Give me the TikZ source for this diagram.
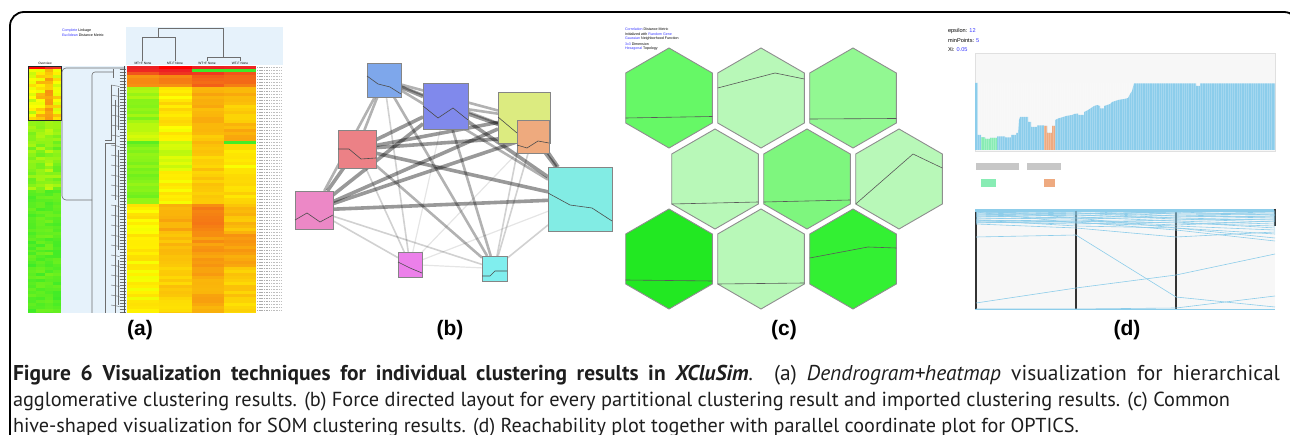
\documentclass[tikz,border=0pt]{standalone}
\usepackage{fontspec}
\setmainfont{PT Sans}
\newfontfamily\labfont{Liberation Sans}
\newfontfamily\tinyfont{Liberation Sans}
\usetikzlibrary{backgrounds}
\definecolor{dendbg}{HTML}{E6F2FB}
\definecolor{dendln}{HTML}{6E6E6E}
\definecolor{hgreen}{HTML}{3CEB28}
\definecolor{linkblue}{HTML}{3A3AFF}
\definecolor{nodeborder}{HTML}{858585}
\definecolor{nbA}{HTML}{7EA7EB}
\definecolor{nbB}{HTML}{8089EC}
\definecolor{nbC}{HTML}{DCEB80}
\definecolor{nbD}{HTML}{EEAA7E}
\definecolor{nbE}{HTML}{EC8186}
\definecolor{nbF}{HTML}{EC88C6}
\definecolor{nbG}{HTML}{82ECE4}
\definecolor{nbH}{HTML}{EC80EA}
\definecolor{nbI}{HTML}{80EEEE}
\definecolor{hexborder}{HTML}{8E8E8E}
\definecolor{hxA}{HTML}{66F866}
\definecolor{hxL}{HTML}{B8F8B8}
\definecolor{hxC}{HTML}{92F892}
\definecolor{hxE}{HTML}{7EF67E}
\definecolor{hxG}{HTML}{22E822}
\definecolor{hxI}{HTML}{33F033}
\definecolor{barblue}{HTML}{8CCDEB}
\definecolor{pblue}{HTML}{8DCDEA}
\definecolor{plotbg}{HTML}{F7F7F7}
\definecolor{gmint}{HTML}{88ECB4}
\definecolor{orangeb}{HTML}{EEAA80}
\definecolor{capgray}{HTML}{1E1E1E}
\newsavebox\capbox
\newdimen\capw
\newdimen\capwa
\newcommand\capfont{\fontsize{20}{25}\selectfont}
\newcommand\capone{\textbf{Figure 6 Visualization techniques for individual clustering results in \textit{XCluSim}}. (a) \textit{Dendrogram+heatmap} visualization for hierarchical}
\newcommand\heatcol[1]{%
  \pgfmathsetmacro\hl{max(0,min(10,#1))}%
  \ifdim\hl pt<6pt
    \pgfmathtruncatemacro\hp{\hl/6*100}%
    \colorlet{hc}{yellow!\hp!red}%
  \else
    \pgfmathtruncatemacro\hp{(\hl-6)/4*100}%
    \colorlet{hc}{hgreen!\hp!yellow}%
  \fi}
\begin{document}
\sbox\capbox{\capfont hive-shaped visualization for SOM clustering results. (d) Reachability plot together with parallel coordinate plot for OPTICS.}%
\global\capw=\wd\capbox
\sbox\capbox{\capfont\capone}%
\global\capwa=\wd\capbox
\pgfmathsetmacro\capsc{1066/\capw}%
\pgfmathsetmacro\capsca{0.5*\capsc+0.5*1267/\capwa}%
\pgfmathsetmacro\lwa{1267/\capsca}%
\xdef\capsc{\capsc}\xdef\capsca{\capsca}\xdef\lwa{\lwa}%
\begin{tikzpicture}[x=1pt,y=-1pt,
  every node/.style={inner sep=0pt, outer sep=0pt},
  dend/.style={draw=dendln, line width=0.6pt},
  bnode/.style={draw=nodeborder, line width=0.8pt, rectangle, inner sep=0pt},
  spark/.style={draw=black!70, line width=0.6pt},
  estrong/.style={draw=black, line width=3.6pt, draw opacity=0.40},
  emid/.style={draw=black, line width=2.6pt, draw opacity=0.30},
  elight/.style={draw=black, line width=1.6pt, draw opacity=0.18},
  efaint/.style={draw=black, line width=1.2pt, draw opacity=0.1},
  hexb/.style={draw=hexborder, line width=0.9pt},
  hexline/.style={draw=black!65, line width=0.6pt},
  pline/.style={draw=pblue, line width=0.6pt},
  panellab/.style={font=\labfont\bfseries\fontsize{21}{21}\selectfont, anchor=base},
  tinytxt/.style={font=\tinyfont\fontsize{3.6}{4}\selectfont, anchor=west},
  dtxt/.style={font=\tinyfont\fontsize{5.6}{7}\selectfont, anchor=west},
  capline/.style={anchor=base west, text=capgray},
]
\useasboundingbox (0,0) rectangle (1290,435);
\begin{scope}[on background layer]
\fill[white] (0,0) rectangle (1290,435);
\end{scope}
\clip (0,0) rectangle (1290,435);
\pgfmathsetseed{7}

% ---------- frame ----------
\draw[line width=1.8pt, rounded corners=14pt] (10,445) -- (10,12) -- (1298,12) -- (1298,445);

% ---------- panel (a) ----------
\fill[dendbg] (126,27) rectangle (283,65);
\fill[dendbg] (61,66) rectangle (127,313);
\node[tinytxt] at (62,31) {\textcolor{linkblue}{Complete} Linkage};
\node[tinytxt] at (62,35.5) {\textcolor{linkblue}{Euclidean} Distance Metric};
% top dendrogram
\draw[dend] (158,37) -- (158,28) -- (223,28) -- (223,57);
\draw[dend] (142,61) -- (142,37) -- (175,37) -- (175,61);
\draw[dend] (207,61) -- (207,57) -- (240,57) -- (240,61);
\foreach \xx/\tt in {143/MT+F None,175/MT-F None,207/WT+F None,240/WT-F None}
  \node[font=\tinyfont\fontsize{3.2}{4}\selectfont] at (\xx,63) {\tt};
\node[font=\tinyfont\fontsize{3.2}{4}\selectfont] at (45,63) {Overview};
% main heatmap
\begin{scope}
\clip (127,66) rectangle (256,313);
\foreach \ya/\yb/\la/\lb/\lc/\ld/\nz in {
  66/69/0/0/0.3/0.3/0.2, 69/72/0.5/0/10/10/0.2, 72/75/1.5/0.5/1/1.5/0.4,
  75/87/3.5/3/2/2.5/0.5, 87/99/7.8/5.8/4/4.2/0.4, 99/123/8.3/5.5/4.2/4.8/0.45,
  123/141/7.2/5.8/4.8/4.2/0.45, 141/144/9.5/7/4.5/9.8/0.2, 144/171/8.6/7/5/5.8/0.45,
  171/204/8.6/6/5/5.3/0.45, 204/231/5.8/4/3/4.5/0.45, 231/267/5.8/4.5/3.5/3.8/0.45,
  267/300/6/5/4/5/0.45, 300/315/5.8/5.2/4/5.3/0.4}{
  \pgfmathtruncatemacro\nrows{max(1,round((\yb-\ya)/3))}
  \pgfmathsetmacro\rh{(\yb-\ya)/\nrows}
  \foreach \r in {1,...,\nrows}{
    \pgfmathsetmacro\yy{\ya+(\r-1)*\rh}
    \foreach \lv [count=\c from 0] in {\la,\lb,\lc,\ld}{
      \pgfmathsetmacro\lvn{\lv+\nz*(rnd-0.5)*2}
      \heatcol{\lvn}
      \fill[hc] ({127+\c*32.25},\yy) rectangle ++(32.6,\rh+0.2);
    }
  }
}
\end{scope}
% overview heatmap
\begin{scope}
\clip (28,66) rectangle (61,313);
\foreach \ya/\yb/\la/\lb/\lc/\ld/\nz in {
  66/69/0/0/0.5/0.5/0.2, 69/120/6.3/5.3/4.5/5.8/1.3,
  120/190/8.5/8.3/8/8.6/0.8, 190/315/9.5/9.4/9.3/9.5/0.5}{
  \pgfmathtruncatemacro\nrows{max(1,round((\yb-\ya)/3))}
  \pgfmathsetmacro\rh{(\yb-\ya)/\nrows}
  \foreach \r in {1,...,\nrows}{
    \pgfmathsetmacro\yy{\ya+(\r-1)*\rh}
    \foreach \lv [count=\c from 0] in {\la,\lb,\lc,\ld}{
      \pgfmathsetmacro\lvn{\lv+\nz*(rnd-0.5)*2}
      \heatcol{\lvn}
      \fill[hc] ({28+\c*8.25},\yy) rectangle ++(8.5,\rh+0.2);
    }
  }
}
\end{scope}
\draw[line width=0.8pt, black!85] (28,66) rectangle (61,120);
% row labels
\foreach \yy in {67.5,70.5,...,312}{
  \draw[gray!65, line width=1.6pt, dash pattern=on 1.2pt off 0.5pt] (257,\yy) -- (269,\yy);
  \draw[gray!50, line width=1.6pt, dash pattern=on 1pt off 0.6pt] (271,\yy) -- (282,\yy);
}
% left dendrogram
\draw[dend, rounded corners=4pt] (125,68) -- (62,68) -- (62,200) -- (92,200);
\draw[dend, rounded corners=3pt] (92,313) -- (92,72) -- (113,72);
\draw[dend] (105,313) -- (105,143) -- (115,143);
\draw[dend] (113,69) -- (113,78);
\draw[dend] (111,85) -- (111,140) -- (105,140);
\draw[dend] (115,100) -- (115,200);
\draw[dend] (115,205) -- (115,313);
\draw[dend] (118,88) -- (118,130);
\draw[dend] (118,150) -- (118,250);
\draw[dend] (118,260) -- (118,305);
\foreach \yy in {69,72,75,78,81,84,...,312}
  \draw[dendln, line width=0.45pt] (119.5,\yy) -- (126,\yy);
\draw[black!70, line width=1.2pt] (124.5,66) -- (124.5,313);
\foreach \yy in {85,95,...,305}
  \draw[dendln, line width=0.45pt] (111,\yy) -- (119.5,\yy+1.5);

\node[panellab] at (140,336) {(a)};

% ---------- panel (b) ----------
\node[bnode, fill=nbA, minimum width=34pt, minimum height=34pt] (b1) at (384,80) {};
\node[bnode, fill=nbB, minimum width=45pt, minimum height=46pt] (b2) at (445.5,106) {};
\node[bnode, fill=nbC, minimum width=52pt, minimum height=51pt] (b3) at (524,117.5) {};
\draw[spark] (498,117) -- (517,133);
\node[bnode, fill=nbD, minimum width=32pt, minimum height=33pt] (b4) at (533,136.5) {};
\node[bnode, fill=nbE, minimum width=38pt, minimum height=38pt] (b5) at (357,149) {};
\node[bnode, fill=nbF, minimum width=38pt, minimum height=38pt] (b6) at (314,210) {};
\node[bnode, fill=nbG, minimum width=64pt, minimum height=64pt] (b7) at (580,199) {};
\node[bnode, fill=nbH, minimum width=24pt, minimum height=25pt] (b8) at (410,264.5) {};
\node[bnode, fill=nbI, minimum width=25pt, minimum height=25pt] (b9) at (494.5,268.5) {};
\draw[spark] (367,76) -- (378,84) -- (390,87) -- (401,94);
\draw[spark] (423,106) -- (438,118) -- (453,108) -- (468,120);
\draw[spark] (517,145) -- (527,148) -- (538,141) -- (549,143);
\draw[spark] (338,149) -- (349,149) -- (361,159) -- (376,158);
\draw[spark] (295,220) -- (307,213) -- (320,222) -- (333,215);
\draw[spark] (548,193) -- (570,205) -- (592,208) -- (612,221);
\draw[spark] (398,262) -- (410,268) -- (422,273);
\draw[spark] (482,276) -- (490,276) -- (495,271) -- (507,271);
\begin{scope}[on background layer]
\foreach \a/\b/\s in {b1/b2/estrong, b1/b3/emid, b1/b4/emid, b1/b7/emid, b1/b5/emid, b1/b6/emid,
  b1/b8/elight, b1/b9/emid, b2/b3/emid, b2/b4/estrong, b2/b5/estrong, b2/b6/estrong,
  b2/b7/estrong, b2/b9/emid, b2/b8/efaint, b3/b5/estrong, b3/b6/estrong, b3/b7/estrong,
  b3/b9/elight, b4/b5/estrong, b4/b6/estrong, b4/b7/estrong, b4/b9/elight, b4/b8/efaint,
  b5/b6/estrong, b5/b7/estrong, b5/b9/emid, b5/b8/elight, b6/b7/estrong, b6/b9/elight,
  b6/b8/elight, b7/b9/elight, b7/b8/efaint, b8/b9/efaint}
  \draw[\s] (\a) -- (\b);
\end{scope}
\node[panellab] at (450,336) {(b)};

% ---------- panel (c) ----------
\node[tinytxt] at (625,29) {\textcolor{linkblue}{Correlation} Distance Metric};
\node[tinytxt] at (625,34) {Initialized with \textcolor{linkblue}{Random Gene}};
\node[tinytxt] at (625,39) {\textcolor{linkblue}{Gaussian} Neighborhood Function};
\node[tinytxt] at (625,44) {\textcolor{linkblue}{3x3} Dimension};
\node[tinytxt] at (625,49) {\textcolor{linkblue}{Hexagonal} Topology};
\foreach \cx/\cy/\cc in {669/98/hxA, 761/98/hxL, 853/98/hxC, 715/179/hxL, 807/179/hxE,
  899/179/hxL, 669/259/hxG, 761/259/hxL, 853/259/hxI}
  \filldraw[hexb, fill=\cc] (\cx,\cy) +(90:50) -- +(150:50) -- +(210:50) -- +(270:50) -- +(330:50) -- +(30:50) -- cycle;
\draw[hexline] (625.7,118) -- (712.3,116.5);
\draw[hexline] (717.7,88) -- (775,73) -- (804.3,79);
\draw[hexline] (809.7,119) -- (896.3,118.5);
\draw[hexline] (671.7,204) -- (758.3,202);
\draw[hexline] (763.7,202) -- (850.3,200);
\draw[hexline] (855.7,204) -- (913,154) -- (942.3,168);
\draw[hexline] (625.7,280) -- (712.3,281);
\draw[hexline] (717.7,284) -- (804.3,283);
\draw[hexline] (809.7,258) -- (868,247) -- (896.3,248);
\node[panellab] at (784,336) {(c)};

% ---------- panel (d) ----------
\node[dtxt] at (948,31) {epsilon: \textcolor{linkblue}{12}};
\node[dtxt] at (948,40.5) {minPoints: \textcolor{linkblue}{5}};
\node[dtxt] at (948,50) {Xi: \textcolor{linkblue}{0.05}};
\filldraw[fill=plotbg, draw=black!12] (975,53) rectangle (1275,151);
\fill[barblue] (975,150) -- (975,83) -- (977.5,83) -- (977.5,135) -- (981,135) -- (981,137.5) -- (985,137.5) -- (985,139) -- (990,139) -- (990,138) -- (997,138) -- (997,136.5) -- (1005,136.5) -- (1005,137.5) -- (1011,137.5) -- (1011,135) -- (1016,135) -- (1016,133) -- (1018,133) -- (1019,120) -- (1020,117) -- (1028,117) -- (1028,122) -- (1031,122) -- (1031,127) -- (1037,127) -- (1037,125.5) -- (1044,125.5) -- (1044,126) -- (1047,126) -- (1047,133) -- (1052,133) -- (1052,126) -- (1055,126) -- (1055,120) -- (1058,118.5) -- (1063,117) -- (1066,116) -- (1072,115) -- (1074,114) -- (1078,113.5) -- (1078,115) -- (1084,115) -- (1084,112) -- (1088,110) -- (1091,108) -- (1094,106) -- (1097,105) -- (1100,106) -- (1100,108.5) -- (1104,108.5) -- (1104,106) -- (1110,104) -- (1112,102) -- (1118,100) -- (1124,99) -- (1128,98) -- (1130,94) -- (1132,91) -- (1134,83.3) -- (1196,83.3) -- (1196,86) -- (1200,86) -- (1200,83.3) -- (1275,83.3) -- (1275,150) -- cycle;
\fill[gmint] (981,150) -- (981,137.5) -- (985,137.5) -- (985,139) -- (990,139) -- (990,138) -- (997,138) -- (997,150) -- cycle;
\fill[orangeb] (1044,150) -- (1044,126) -- (1047,126) -- (1047,133) -- (1052,133) -- (1052,126) -- (1055,126) -- (1055,150) -- cycle;
\foreach \xx in {977,979.3,...,1274}
  \draw[white, opacity=0.22, line width=0.3pt] (\xx,83) -- (\xx,150);
\fill[black!22] (976,163) rectangle (1019,170);
\fill[black!22] (1027,163) rectangle (1061,170);
\fill[gmint] (981,179) rectangle (996,187);
\fill[orangeb] (1044,179) rectangle (1055,187);
% parallel coordinates
\fill[plotbg] (975,209) rectangle (1275,309);
\draw[pblue, line width=0.8pt] (975,309) -- (1275,309);
\fill[pblue] (975,209) rectangle (1275,212.5);
\draw[black!80, line width=1.6pt] (976,212) -- (976,309);
\draw[black!80, line width=1.6pt] (1076,211) -- (1076,309);
\draw[black!80, line width=1.6pt] (1176,212) -- (1176,309);
\draw[black!80, line width=1.2pt] (1275,209) -- (1275,226);
\foreach \p/\q/\r/\s in {210/212/211/213, 211/210/214/215, 212/214/212/211, 213/211/216/218,
  214/216/213/214, 215/213/218/220, 216/218/215/217, 217/215/219/222, 218/219/217/216,
  219/217/221/224, 220/222/220/219, 221/220/223/226, 222/224/222/228, 223/221/225/221,
  212/223/226/230, 210/218/228/234, 214/212/210/212, 216/214/212/215}
  \draw[pline] (976,\p) -- (1076,\q) -- (1176,\r) -- (1275,\s);
\draw[pline] (976,237) -- (1076,235) -- (1176,297) -- (1275,307);
\draw[pline] (976,303) -- (1076,288) -- (1176,275) -- (1275,254);
\draw[pline] (976,309) -- (1076,309) -- (1176,308) -- (1275,296);
\draw[pline] (976,224) -- (1076,228) -- (1176,237) -- (1275,232);
\draw[pline] (976,222) -- (1076,222) -- (1176,230) -- (1275,241);
\draw[pline] (976,220) -- (1076,226) -- (1176,228) -- (1275,238);
\node[panellab] at (1127,336) {(d)};

% ---------- caption ----------
\node[capline] at (13,381) {\scalebox{\capsca}{\makebox[\lwa pt][s]{\capfont\capone}}};
\node[capline] at (13,406.5) {\resizebox{1217pt}{!}{\capfont agglomerative clustering results. (b) Force directed layout for every partitional clustering result and imported clustering results. (c) Common}};
\node[capline] at (13,432) {\scalebox{\capsc}{\capfont hive-shaped visualization for SOM clustering results. (d) Reachability plot together with parallel coordinate plot for OPTICS.}};
\end{tikzpicture}
\end{document}
